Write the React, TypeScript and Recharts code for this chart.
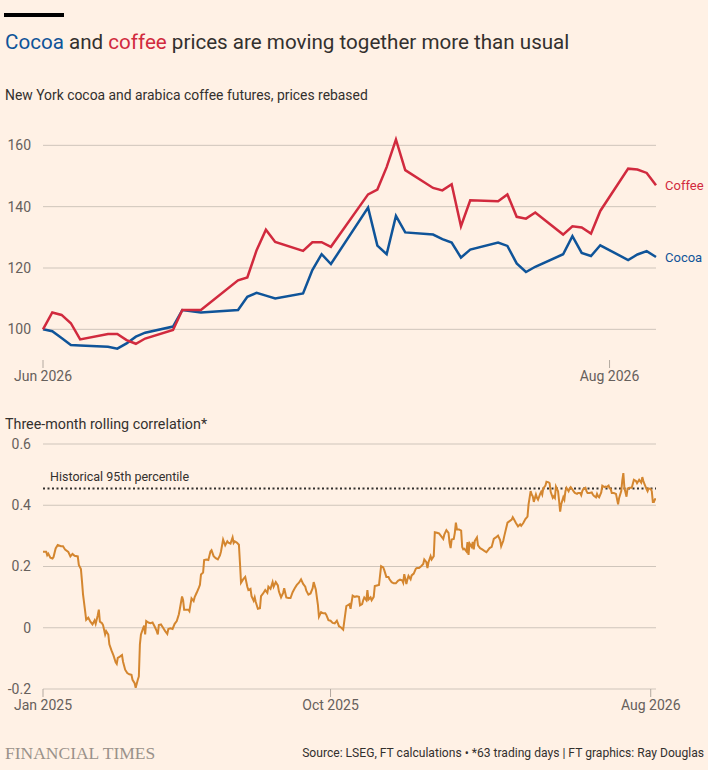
import { LineChart, Line, XAxis, YAxis, ReferenceLine, LabelList } from 'recharts';

const FONT = "Roboto, 'Noto Sans', sans-serif";
const BG = '#fff1e5';
const INK = '#33302e';
const MUTED = '#66605c';
const GRID = '#cfc5bb';
const COCOA = '#0f5499';
const COFFEE = '#d12a3e';
const CORR = '#d4862f';

// top panel: trading days since 1 Jun 2026
const priceDays = [0, 1, 2, 3, 4, 7, 8, 9, 10, 11, 14, 15, 17, 21, 22, 23, 24, 25, 28, 29, 30, 31, 35, 36, 37, 38, 39, 42, 43, 44, 45, 46, 49, 50, 51, 52, 53, 56, 57, 58, 59, 60, 63, 64, 65, 66];
const cocoaValues = [100, 99.4, 97.2, 94.9, 94.7, 94.3, 93.7, 95.4, 97.6, 98.9, 100.9, 106.3, 105.5, 106.3, 110.6, 111.9, 111, 110.1, 111.7, 119.3, 124.5, 121.3, 139.7, 127.3, 124.5, 137, 131.6, 130.9, 129.4, 128.3, 123.4, 126, 128.3, 127.2, 121.5, 118.7, 120.4, 124.5, 130.4, 124.9, 123.9, 127.4, 122.6, 124.4, 125.5, 123.6];
const coffeeValues = [100, 105.5, 104.7, 102, 96.7, 98.5, 98.5, 96.5, 95.3, 97, 99.8, 106.3, 106.3, 116, 116.9, 125.8, 132.5, 128.5, 125.6, 128.4, 128.4, 126.9, 144, 145.6, 152.9, 161.9, 151.9, 146.1, 145.3, 147.3, 133.6, 142.1, 141.8, 144, 136.7, 136.1, 138.1, 130.9, 133.6, 133.2, 131.2, 138.6, 152.4, 152.1, 151, 147];
const priceTicks = [100, 120, 140, 160];
const priceMonthTicks = [0, 61];
const priceMonthLabels = ['Jun 2026', 'Aug 2026'];

// bottom panel: [days since 1 Jan 2025, correlation]
const correlation: [number, number][] = [
  [0, 0.248], [3, 0.248], [4, 0.237], [5, 0.242], [7, 0.229], [9, 0.226], [10, 0.231], [12, 0.259], [14, 0.27], [17, 0.266],
  [19, 0.266], [21, 0.255], [24, 0.248], [26, 0.233], [28, 0.241], [30, 0.235], [33, 0.233], [34, 0.205], [36, 0.192], [37, 0.152],
  [38, 0.109], [40, 0.054], [41, 0.026], [43, 0.033], [45, 0.02], [47, 0.011], [49, 0.024], [50, 0.013], [52, 0.041], [53, 0.059],
  [54, 0.02], [56, 0.015], [57, 0.009], [59, -0.022], [60, -0.011], [62, -0.022], [63, -0.054], [65, -0.074], [67, -0.091], [69, -0.113],
  [70, -0.118], [71, -0.098], [73, -0.094], [75, -0.089], [76, -0.111], [78, -0.137], [80, -0.148], [82, -0.152], [84, -0.154], [85, -0.17],
  [87, -0.181], [88, -0.196], [90, -0.17], [91, -0.159], [92, -0.054], [93, -0.022], [95, -0.002], [96, 0.007], [97, -0.022], [98, 0.022],
  [100, 0.017], [102, 0.015], [104, 0.017], [106, 0.004], [108, -0.011], [109, -0.022], [110, 0.009], [112, 0.011], [114, 0], [116, -0.011],
  [118, -0.02], [119, -0.004], [121, -0.002], [123, -0.004], [125, 0.013], [127, 0.022], [129, 0.044], [130, 0.063], [132, 0.102], [133, 0.091],
  [134, 0.059], [136, 0.059], [138, 0.059], [139, 0.054], [141, 0.096], [143, 0.087], [144, 0.1], [146, 0.115], [148, 0.131], [149, 0.14],
  [150, 0.174], [152, 0.18], [153, 0.221], [155, 0.223], [157, 0.221], [159, 0.249], [160, 0.253], [162, 0.234], [164, 0.227], [166, 0.223],
  [168, 0.236], [169, 0.249], [171, 0.288], [173, 0.269], [175, 0.282], [176, 0.278], [178, 0.275], [180, 0.295], [181, 0.277], [182, 0.282],
  [184, 0.278], [186, 0.271], [187, 0.212], [188, 0.147], [190, 0.158], [192, 0.166], [194, 0.134], [195, 0.123], [197, 0.127], [198, 0.103],
  [200, 0.088], [201, 0.099], [202, 0.084], [204, 0.062], [206, 0.064], [207, 0.103], [209, 0.112], [211, 0.123], [213, 0.114], [214, 0.134],
  [216, 0.127], [218, 0.149], [219, 0.134], [221, 0.149], [223, 0.138], [224, 0.118], [226, 0.099], [228, 0.114], [229, 0.129], [231, 0.099],
  [233, 0.097], [235, 0.097], [237, 0.116], [239, 0.129], [241, 0.14], [243, 0.147], [245, 0.158], [247, 0.143], [249, 0.134], [250, 0.121],
  [252, 0.108], [254, 0.112], [256, 0.129], [257, 0.149], [259, 0.125], [261, 0.075], [262, 0.036], [264, 0.051], [266, 0.047], [268, 0.047],
  [269, 0.042], [271, 0.025], [273, 0.023], [275, 0.016], [277, 0.014], [279, 0.023], [280, 0.014], [281, 0.005], [283, 0.001], [285, -0.006],
  [286, 0.02], [288, 0.071], [290, 0.075], [291, 0.077], [292, 0.062], [294, 0.105], [296, 0.101], [298, 0.103], [300, 0.101], [301, 0.073],
  [303, 0.077], [304, 0.09], [305, 0.099], [307, 0.09], [308, 0.123], [309, 0.092], [311, 0.099], [312, 0.09], [314, 0.101], [315, 0.136],
  [317, 0.138], [319, 0.14], [321, 0.201], [323, 0.197], [324, 0.188], [326, 0.166], [328, 0.166], [329, 0.158], [331, 0.149], [333, 0.145],
  [335, 0.145], [337, 0.153], [339, 0.157], [341, 0.155], [342, 0.147], [343, 0.175], [345, 0.143], [346, 0.158], [347, 0.169], [349, 0.158],
  [350, 0.171], [352, 0.177], [354, 0.193], [355, 0.195], [357, 0.195], [359, 0.201], [361, 0.208], [362, 0.223], [364, 0.214], [365, 0.195],
  [366, 0.214], [368, 0.234], [369, 0.223], [371, 0.234], [372, 0.312], [374, 0.31], [376, 0.308], [378, 0.299], [380, 0.29], [381, 0.304],
  [383, 0.319], [385, 0.31], [386, 0.277], [387, 0.26], [388, 0.288], [390, 0.29], [391, 0.31], [392, 0.343], [393, 0.321], [395, 0.321],
  [397, 0.317], [398, 0.264], [399, 0.256], [400, 0.258], [402, 0.249], [403, 0.28], [404, 0.238], [405, 0.275], [407, 0.264], [408, 0.28],
  [409, 0.256], [410, 0.284], [412, 0.295], [413, 0.269], [415, 0.26], [417, 0.256], [419, 0.251], [421, 0.247], [422, 0.251], [424, 0.26],
  [426, 0.264], [428, 0.29], [430, 0.295], [432, 0.301], [434, 0.286], [435, 0.266], [437, 0.284], [438, 0.3], [441, 0.343], [443, 0.348],
  [445, 0.353], [446, 0.361], [447, 0.355], [449, 0.342], [451, 0.331], [453, 0.338], [454, 0.333], [456, 0.342], [458, 0.355], [460, 0.363],
  [461, 0.403], [463, 0.446], [464, 0.435], [465, 0.429], [466, 0.411], [468, 0.435], [469, 0.424], [470, 0.418], [472, 0.437], [473, 0.444],
  [474, 0.435], [475, 0.455], [477, 0.464], [478, 0.477], [480, 0.475], [481, 0.472], [482, 0.444], [484, 0.424], [485, 0.429], [486, 0.424],
  [487, 0.461], [489, 0.446], [490, 0.414], [491, 0.379], [492, 0.403], [494, 0.426], [495, 0.418], [496, 0.446], [497, 0.457], [499, 0.446],
  [500, 0.455], [501, 0.459], [503, 0.45], [504, 0.444], [505, 0.44], [507, 0.437], [508, 0.44], [510, 0.44], [511, 0.433], [512, 0.446],
  [513, 0.453], [515, 0.457], [516, 0.446], [517, 0.44], [519, 0.44], [521, 0.442], [522, 0.435], [523, 0.431], [525, 0.426], [526, 0.437],
  [527, 0.429], [528, 0.426], [530, 0.442], [531, 0.464], [533, 0.459], [534, 0.461], [535, 0.459], [537, 0.464], [538, 0.455], [539, 0.453],
  [540, 0.44], [542, 0.44], [544, 0.437], [546, 0.403], [547, 0.424], [549, 0.446], [550, 0.481], [551, 0.505], [552, 0.457], [554, 0.428],
  [555, 0.455], [557, 0.457], [559, 0.457], [561, 0.483], [563, 0.479], [564, 0.472], [566, 0.483], [568, 0.474], [569, 0.492], [570, 0.479],
  [571, 0.47], [573, 0.453], [574, 0.446], [575, 0.455], [577, 0.453], [578, 0.446], [579, 0.411], [580, 0.411], [581, 0.42], [582, 0.42],
];
const corrTicks = [-0.2, 0, 0.2, 0.4, 0.6];
const corrMonthTicks = [0, 273, 577];
const corrMonthLabels = ['Jan 2025', 'Oct 2025', 'Aug 2026'];
const percentile95 = 0.455;

const priceData = priceDays.map((day, i) => ({ day, cocoa: cocoaValues[i], coffee: coffeeValues[i] }));
const corrData = correlation.map(([day, value]) => ({ day, value }));

const tickStyle = { fill: MUTED, fontSize: 14, fontFamily: FONT };

function endLabel(text: string, color: string) {
  return (props: any) => {
    if (props.index !== priceDays.length - 1) return null;
    return (
      <text x={props.x + 9} y={props.y} dy={5} fill={color} fontSize={13} fontFamily={FONT}>
        {text}
      </text>
    );
  };
}

export default function App() {
  return (
    <div style={{ position: 'absolute', left: 0, top: 0, width: 708, height: 770, background: BG, fontFamily: FONT, color: INK, overflow: 'hidden' }}>
      <style>{'body{margin:0;background:' + BG + '}'}</style>
      <div style={{ position: 'absolute', left: 4, top: 13, width: 60, height: 4, background: '#000' }} />
      <div style={{ position: 'absolute', left: 5, top: 29, fontSize: 20.6, lineHeight: '26px', whiteSpace: 'nowrap' }}>
        <span style={{ color: COCOA }}>Cocoa</span> and <span style={{ color: COFFEE }}>coffee</span> prices are moving together more than usual
      </div>
      <div style={{ position: 'absolute', left: 5, top: 86, fontSize: 13.9, lineHeight: '18px', whiteSpace: 'nowrap' }}>
        New York cocoa and arabica coffee futures, prices rebased
      </div>

      <div style={{ position: 'absolute', left: 0, top: 0 }}>
        <LineChart width={708} height={392} data={priceData} margin={{ top: 130, right: 52, left: 0, bottom: 0 }}>
          {priceTicks.map((t) => (
            <ReferenceLine key={t} y={t} stroke={GRID} />
          ))}
          <XAxis
            dataKey="day"
            type="number"
            domain={[0, 66]}
            ticks={priceMonthTicks}
            tickFormatter={(v: number) => priceMonthLabels[priceMonthTicks.indexOf(v)]}
            axisLine={false}
            tickLine={{ stroke: '#b3a9a0' }}
            tickSize={8}
            tickMargin={3}
            height={32}
            tick={tickStyle}
          />
          <YAxis
            domain={[90, 165]}
            ticks={priceTicks}
            axisLine={false}
            tickLine={false}
            tickSize={0}
            tickMargin={12}
            width={43}
            tick={tickStyle}
          />
          <Line dataKey="cocoa" stroke={COCOA} strokeWidth={2.5} dot={false} isAnimationActive={false}>
            <LabelList dataKey="cocoa" content={endLabel('Cocoa', COCOA)} />
          </Line>
          <Line dataKey="coffee" stroke={COFFEE} strokeWidth={2.5} dot={false} isAnimationActive={false}>
            <LabelList dataKey="coffee" content={endLabel('Coffee', COFFEE)} />
          </Line>
        </LineChart>
      </div>

      <div style={{ position: 'absolute', left: 5, top: 415, fontSize: 14.3, lineHeight: '18px', whiteSpace: 'nowrap' }}>
        Three-month rolling correlation*
      </div>

      <div style={{ position: 'absolute', left: 0, top: 400 }}>
        <LineChart width={708} height={320} data={corrData} margin={{ top: 44, right: 52, left: 0, bottom: 0 }}>
          {corrTicks.map((t) => (
            <ReferenceLine key={t} y={t} stroke={GRID} />
          ))}
          <XAxis
            dataKey="day"
            type="number"
            domain={[0, 582]}
            ticks={corrMonthTicks}
            tickFormatter={(v: number) => corrMonthLabels[corrMonthTicks.indexOf(v)]}
            axisLine={false}
            tickLine={{ stroke: '#b3a9a0' }}
            tickSize={8}
            tickMargin={3}
            height={31}
            tick={tickStyle}
          />
          <YAxis
            domain={[-0.2, 0.6]}
            ticks={corrTicks}
            axisLine={false}
            tickLine={false}
            tickSize={0}
            tickMargin={12}
            width={43}
            tick={tickStyle}
          />
          <ReferenceLine
            y={percentile95}
            stroke={INK}
            strokeWidth={2}
            strokeDasharray="2 2.5"
            label={{ value: 'Historical 95th percentile', position: 'insideBottomLeft', offset: 7, fill: INK, fontSize: 12.5, fontFamily: FONT }}
          />
          <Line dataKey="value" stroke={CORR} strokeWidth={2} dot={false} isAnimationActive={false} />
        </LineChart>
      </div>

      <div style={{ position: 'absolute', left: 5, top: 742, fontSize: 17.5, lineHeight: '22px', fontFamily: "'Liberation Serif', 'DejaVu Serif', serif", color: '#9a918a', whiteSpace: 'nowrap' }}>
        FINANCIAL TIMES
      </div>
      <div style={{ position: 'absolute', right: 4, top: 745, fontSize: 12.1, lineHeight: '16px', whiteSpace: 'nowrap' }}>
        Source: LSEG, FT calculations • *63 trading days | FT graphics: Ray Douglas
      </div>
    </div>
  );
}
